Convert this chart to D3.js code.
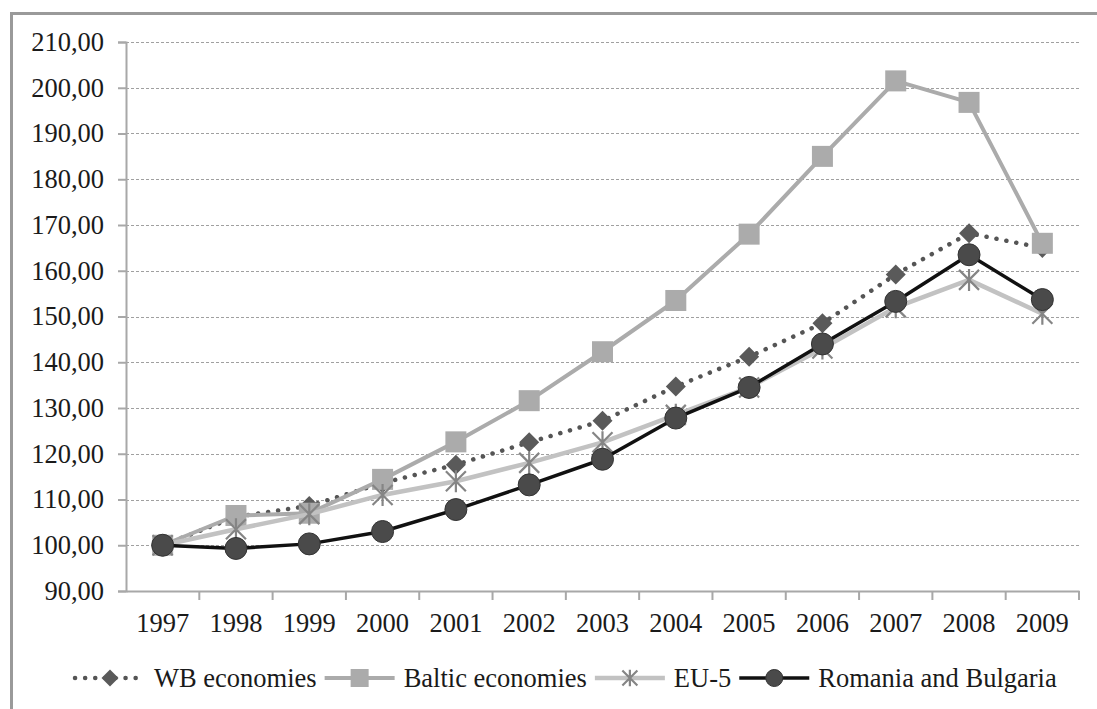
<!DOCTYPE html>
<html>
<head>
<meta charset="utf-8">
<script src="https://cdn.jsdelivr.net/npm/d3@7"></script>
<style>
  body { margin: 0; background: #fff; }
</style>
</head>
<body>
<div id="chart"></div>
<script>
// data
const years = [1997, 1998, 1999, 2000, 2001, 2002, 2003, 2004, 2005, 2006, 2007, 2008, 2009]
const wbEconomies = [100, 106.2, 108.6, 113.6, 117.6, 122.5, 127.2, 134.7, 141.2, 148.5, 159.2, 168.2, 165]
const balticEconomies = [100, 106.5, 107, 114.4, 122.6, 131.6, 142.3, 153.5, 168, 185, 201.5, 196.8, 166]
const eu5 = [100, 103.5, 106.8, 111, 114, 118, 122.5, 128.5, 134.5, 143, 152, 158, 150.6]
const romaniaBulgaria = [100, 99.3, 100.3, 103, 107.8, 113.2, 118.8, 127.8, 134.5, 144, 153.3, 163.5, 153.7]
const seriesNames = ["WB economies", "Baltic economies", "EU-5", "Romania and Bulgaria"]
const yTicks = [90, 100, 110, 120, 130, 140, 150, 160, 170, 180, 190, 200, 210]

const W = 1097, H = 709
const margin = { top: 42, right: 18, bottom: 118, left: 126 }
const font = '"Liberation Serif"'
const fontSize = 26.5
const textColor = '#1a1a1a'

// canvas measure for the legend layout
const probe = document.createElement('canvas').getContext('2d')
probe.font = `${fontSize}px ${font}`
const textWidth = s => probe.measureText(s).width

const svg = d3.select('#chart')
    .append('svg')
    .attr('width', W)
    .attr('height', H)

// outer frame, runs off the right and bottom of the picture
svg.append('rect')
    .attr('x', 11.5)
    .attr('y', 13.5)
    .attr('width', W + 20)
    .attr('height', H + 20)
    .attr('fill', 'none')
    .attr('stroke', '#9a9a9a')
    .attr('stroke-width', 3)

const x = d3.scaleBand()
    .domain(years)
    .range([margin.left, W - margin.right])
    .padding(0)
const cx = d => x(d) + x.bandwidth() / 2

const y = d3.scaleLinear()
    .domain([90, 210])
    .range([H - margin.bottom, margin.top])

const fmt = v => d3.format('.2f')(v).replace('.', ',')

// grid lines
svg.append('g')
    .selectAll('line')
    .data(yTicks.slice(1))
    .join('line')
    .attr('x1', margin.left)
    .attr('x2', W - margin.right)
    .attr('y1', d => Math.round(y(d)) + 0.5)
    .attr('y2', d => Math.round(y(d)) + 0.5)
    .attr('stroke', '#a0a0a0')
    .attr('stroke-width', 1)
    .attr('stroke-dasharray', '3,2')

// y axis
const yAxis = svg.append('g')
    .attr('transform', `translate(${margin.left},0)`)
    .call(d3.axisLeft(y).tickValues(yTicks).tickFormat(fmt).tickSize(8).tickPadding(14))
yAxis.attr('font-family', null).attr('font-size', null)
yAxis.select('.domain').attr('stroke', '#a8a8a8').attr('stroke-width', 2)
yAxis.selectAll('.tick line').attr('stroke', '#a8a8a8').attr('stroke-width', 2)
yAxis.selectAll('.tick text')
    .style('font-family', font)
    .style('font-size', fontSize + 'px')
    .attr('fill', textColor)

// x axis: labels at band centres, ticks at band edges
const xAxis = svg.append('g')
    .attr('transform', `translate(0,${y(90)})`)
    .call(d3.axisBottom(x).tickSize(0).tickPadding(0))
xAxis.attr('font-family', null).attr('font-size', null)
xAxis.select('.domain').attr('stroke', '#a8a8a8').attr('stroke-width', 2)
xAxis.selectAll('.tick text')
    .attr('y', 41)
    .attr('dy', 0)
    .style('font-family', font)
    .style('font-size', fontSize + 'px')
    .attr('fill', textColor)
xAxis.append('g')
    .selectAll('line')
    .data(years.slice(1).map(d => x(d)).concat([x.range()[1]]))
    .join('line')
    .attr('x1', d => d)
    .attr('x2', d => d)
    .attr('y1', 0)
    .attr('y2', 9)
    .attr('stroke', '#a8a8a8')
    .attr('stroke-width', 2)

// marker drawers
const markers = {
    diamond: (g, s) => g.append('path')
        .attr('d', `M0,${-s}L${s},0L0,${s}L${-s},0Z`)
        .attr('fill', '#5a5a5a'),
    square: (g, s) => g.append('rect')
        .attr('x', -s).attr('y', -s).attr('width', 2 * s).attr('height', 2 * s)
        .attr('fill', '#ababab'),
    star: (g, s) => g.append('path')
        .attr('d', `M${-s},${-s}L${s},${s}M${-s},${s}L${s},${-s}M0,${-s * 1.1}L0,${s * 1.1}`)
        .attr('stroke', '#858585').attr('stroke-width', 2.2).attr('fill', 'none'),
    circle: (g, s) => g.append('circle')
        .attr('r', s)
        .attr('fill', '#4a4a4a')
        .attr('stroke', '#333').attr('stroke-width', 1)
}

const series = [
    { name: seriesNames[0], values: wbEconomies, color: '#555', width: 4.5, dash: '0.1,10', cap: 'round', marker: 'diamond', size: 10, lsize: 8.5 },
    { name: seriesNames[1], values: balticEconomies, color: '#ababab', width: 4, dash: null, cap: 'butt', marker: 'square', size: 10.5, lsize: 9 },
    { name: seriesNames[2], values: eu5, color: '#c2c2c2', width: 4.5, dash: null, cap: 'butt', marker: 'star', size: 10, lsize: 7.5 },
    { name: seriesNames[3], values: romaniaBulgaria, color: '#111', width: 3.5, dash: null, cap: 'butt', marker: 'circle', size: 11, lsize: 8.5 }
]

const line = d3.line()
    .x((d, i) => cx(years[i]))
    .y(d => y(d))

series.forEach(s => {
    const g = svg.append('g')
    g.append('path')
        .datum(s.values)
        .attr('fill', 'none')
        .attr('stroke', s.color)
        .attr('stroke-width', s.width)
        .attr('stroke-dasharray', s.dash)
        .attr('stroke-linecap', s.cap)
        .attr('stroke-linejoin', 'round')
        .attr('d', line)
    s.values.forEach((v, i) => {
        const m = g.append('g').attr('transform', `translate(${cx(years[i])},${y(v)})`)
        markers[s.marker](m, s.size)
    })
})

// legend
const legendY = 678
let lx = 75
series.forEach(s => {
    const segLen = 70
    svg.append('line')
        .attr('x1', lx)
        .attr('x2', lx + segLen)
        .attr('y1', legendY)
        .attr('y2', legendY)
        .attr('stroke', s.color)
        .attr('stroke-width', s.width)
        .attr('stroke-dasharray', s.dash)
        .attr('stroke-linecap', s.cap)
    const m = svg.append('g').attr('transform', `translate(${lx + segLen / 2},${legendY})`)
    markers[s.marker](m, s.lsize)
    svg.append('text')
        .attr('x', lx + segLen + 9)
        .attr('y', legendY + 9)
        .style('font-family', font)
        .style('font-size', fontSize + 'px')
        .attr('fill', textColor)
        .text(s.name)
    lx += segLen + 9 + textWidth(s.name) + 8
})
</script>
</body>
</html>
